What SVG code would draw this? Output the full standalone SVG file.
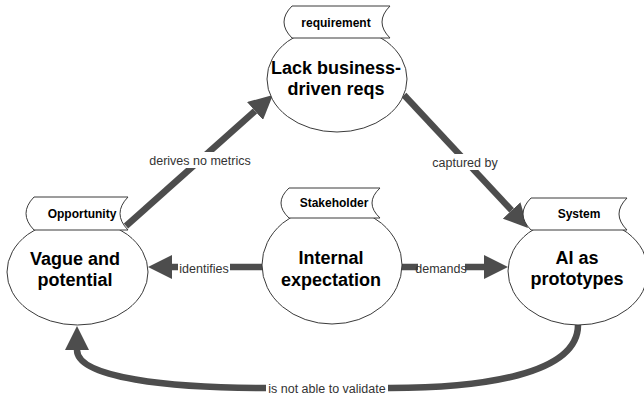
<svg xmlns="http://www.w3.org/2000/svg" width="644" height="398" viewBox="0 0 644 398">
  <style>
    .body { fill: #ffffff; stroke: #3a3a3a; stroke-width: 1; }
    .tag { fill: #ffffff; stroke: #3a3a3a; stroke-width: 1; }
    .tagtxt { font-family: "Liberation Sans", Arial, sans-serif; font-size: 12px; font-weight: bold; fill: #000; text-anchor: middle; }
    .main { font-family: "Liberation Sans", Arial, sans-serif; font-size: 18px; font-weight: bold; fill: #000; text-anchor: middle; }
    .edge { fill: none; stroke: #4d4d4d; stroke-width: 6.5; marker-end: url(#block); }
    .lbl { font-family: "Liberation Sans", Arial, sans-serif; font-size: 12.5px; fill: #333; text-anchor: middle; }
    .lblbg { fill: #ffffff; }
  </style>
  <defs>
    <marker id="block" markerUnits="userSpaceOnUse" markerWidth="24" markerHeight="24" refX="0" refY="12" orient="auto">
      <path d="M0,0 L24,12 L0,24 Z" fill="#4d4d4d"/>
    </marker>
  </defs>

  <!-- connectors -->
  <g id="connectors">
    <path class="edge" d="M126,226 L255,111"/>
    <path class="edge" d="M404,95 L511.6,210.4"/>
    <path class="edge" d="M262,267 L172,267"/>
    <path class="edge" d="M402,267 L484,267"/>
    <path class="edge" d="M578,325 C578,375 480,388 390,388 L265,388 C170,388 77,378 77,350"/>

    <rect class="lblbg" x="148" y="152" width="104" height="16"/>
    <text class="lbl" x="200" y="164.5">derives no metrics</text>
    <rect class="lblbg" x="431" y="154" width="68" height="16"/>
    <text class="lbl" x="465" y="166.5">captured by</text>
    <rect class="lblbg" x="178" y="260" width="52" height="16"/>
    <text class="lbl" x="204" y="272.5">identifies</text>
    <rect class="lblbg" x="418" y="260" width="47" height="16"/>
    <text class="lbl" x="441" y="272.5">demands</text>
    <rect class="lblbg" x="266" y="380" width="122" height="16"/>
    <text class="lbl" x="327" y="392.5">is not able to validate</text>
  </g>

  <!-- requirement -->
  <g id="node-requirement">
    <ellipse class="body" cx="337" cy="79" rx="70" ry="53"/>
    <path class="tag" d="M292,6 L390,6 Q374,22 390,38 L292,38 Q276,22 292,6 Z"/>
    <text class="tagtxt" x="336" y="26.5">requirement</text>
    <text class="main" x="336" y="73.5">Lack business-</text>
    <text class="main" x="336" y="94.5">driven reqs</text>
  </g>

  <!-- opportunity -->
  <g id="node-opportunity">
    <ellipse class="body" cx="77.5" cy="272" rx="70.5" ry="53"/>
    <path class="tag" d="M34,197 L128,197 Q112,213.5 128,230 L34,230 Q18,213.5 34,197 Z"/>
    <text class="tagtxt" x="82" y="218">Opportunity</text>
    <text class="main" x="75" y="264.5">Vague and</text>
    <text class="main" x="75" y="285.5">potential</text>
  </g>

  <!-- stakeholder -->
  <g id="node-stakeholder">
    <ellipse class="body" cx="332" cy="265" rx="70" ry="59"/>
    <path class="tag" d="M289,188 L380,188 Q364,203 380,218 L289,218 Q273,203 289,188 Z"/>
    <text class="tagtxt" x="334" y="207">Stakeholder</text>
    <text class="main" x="331" y="263.5">Internal</text>
    <text class="main" x="331" y="285.5">expectation</text>
  </g>

  <!-- system -->
  <g id="node-system">
    <ellipse class="body" cx="578" cy="271" rx="70" ry="54"/>
    <path class="tag" d="M531,198 L627,198 Q611,214 627,230 L531,230 Q515,214 531,198 Z"/>
    <text class="tagtxt" x="579" y="218">System</text>
    <text class="main" x="577" y="263.5">AI as</text>
    <text class="main" x="577" y="284.5">prototypes</text>
  </g>
</svg>
